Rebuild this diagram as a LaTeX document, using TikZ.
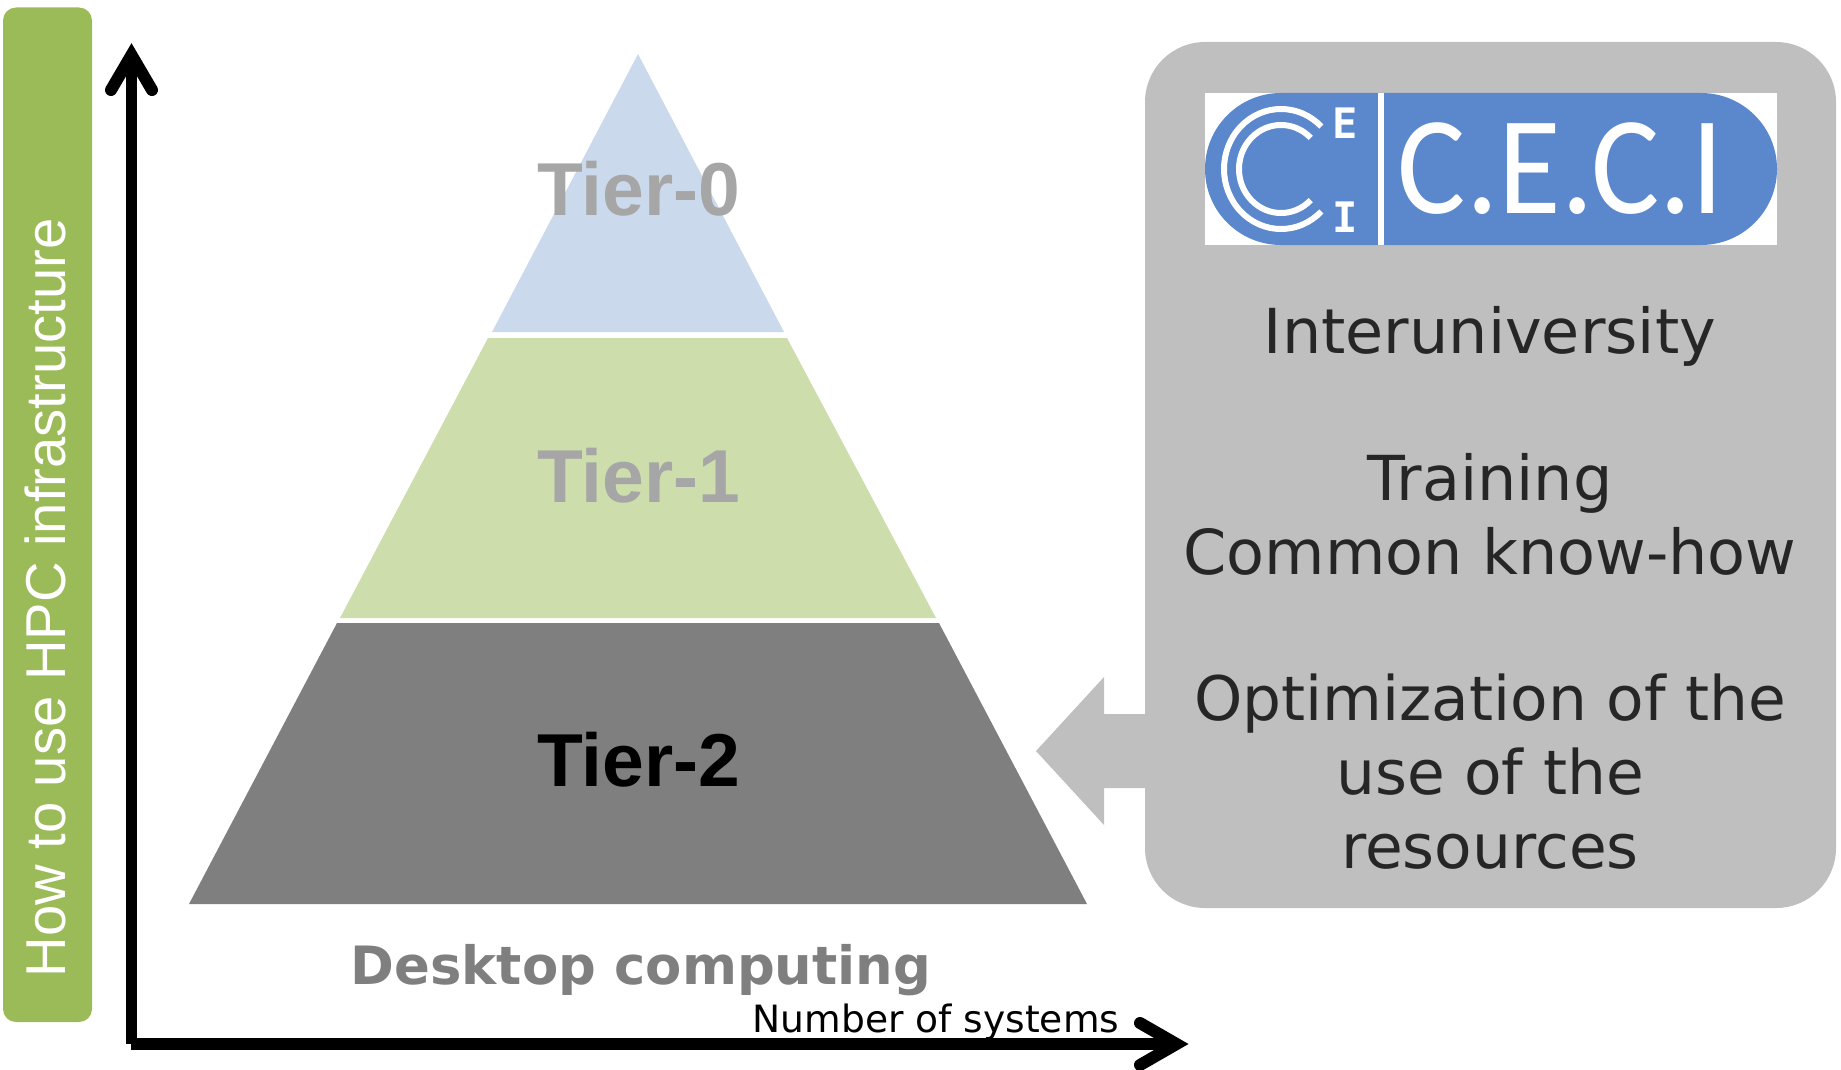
\documentclass[tikz,border=0pt]{standalone}
\usepackage{fontspec}
\setmainfont{DejaVu Sans}
\newfontfamily\arialf{Liberation Sans}
\newfontfamily\logof{Carlito}
\newfontfamily\logomono{DejaVu Sans Mono}
\definecolor{greenbar}{HTML}{9BBB59}
\definecolor{tierzero}{HTML}{CADAEC}
\definecolor{tierone}{HTML}{CDDDAC}
\definecolor{tiertwo}{HTML}{7F7F7F}
\definecolor{panel}{HTML}{BFBFBF}
\definecolor{logoblue}{HTML}{5B87CC}
\definecolor{tierlabel}{HTML}{A6A6A6}
\definecolor{paneltext}{HTML}{262626}
\tikzset{
  lbl/.style={inner sep=0pt,outer sep=0pt,anchor=base},
  tierlbl/.style={lbl,font=\arialf\bfseries\fontsize{75}{80}\selectfont},
  paneltxt/.style={lbl,align=center,text=paneltext,font=\fontsize{62}{74}\selectfont},
  axisline/.style={line width=11.8pt},
  axiswing/.style={line width=12pt,line cap=round,miter limit=10}
}
\begin{document}
\begin{tikzpicture}[x=1pt,y=-1pt]
\useasboundingbox (0,0) rectangle (1841,1070);
% sidebar
\fill[greenbar,rounded corners=13pt] (3,7.5) rectangle (92,1022);
\node[lbl,rotate=90,text=white,font=\arialf\fontsize{56.2}{60}\selectfont] (side) at (65,598) {How to use HPC infrastructure};
% pyramid
\fill[tierzero] (638,54) -- (784,332) -- (492,332) -- cycle;
\fill[tierone] (488,338) -- (787,338) -- (936,618) -- (340,618) -- cycle;
\fill[tiertwo] (337,623) -- (939,623) -- (1087,904) -- (189,904) -- cycle;
\node[tierlbl,text=tierlabel] (t0) at (638.5,215) {Tier-0};
\node[tierlbl,text=tierlabel] (t1) at (638.5,502) {Tier-1};
\node[tierlbl,text=black] (t2) at (638.5,786) {Tier-2};
\node[lbl,text=tiertwo,font=\bfseries\fontsize{52.8}{60}\selectfont] (desk) at (641,984) {Desktop computing};
% panel
\fill[panel,rounded corners=60pt] (1145,42) rectangle (1836,908);
\fill[panel] (1150,714) -- (1104,714) -- (1104,677) -- (1036,751) -- (1104,825) -- (1104,788) -- (1150,788) -- cycle;
% logo
\fill[white] (1205,93) rectangle (1777,245);
\fill[logoblue,rounded corners=76pt] (1205,93) rectangle (1777,245);
\fill[white] (1378,93) rectangle (1384,245);
\draw[white,line width=6pt] (1281,169) ++(45:57 and 60) arc[start angle=45,end angle=315,x radius=57,y radius=60];
\draw[white,line width=6pt] (1281,169) ++(45:42 and 44) arc[start angle=45,end angle=315,x radius=42,y radius=44];
\node[lbl,text=white,font=\logomono\bfseries\fontsize{42}{44}\selectfont] (logoe) at (1345,139) {E};
\node[lbl,text=white,font=\logomono\bfseries\fontsize{42}{44}\selectfont] (logoi) at (1345,232) {I};
\node[lbl,text=white,font=\logof\fontsize{140}{140}\selectfont] (logot) at (1561,213) {\scalebox{.915}[1]{C.E.C.I}};
% panel text
\node[paneltxt] (p1) at (1490,353) {Interuniversity};
\node[paneltxt] (p2) at (1490,574) {Training\\Common know-how};
\node[paneltxt,font=\fontsize{61.4}{74}\selectfont] (p3) at (1490,868) {Optimization of the\\use of the\\resources};
% axes
\coordinate (orig) at (131,1044);
\coordinate (ybase) at (131.5,1044);
\coordinate (yvert) at (131.5,55);
\coordinate (yl) at (111,90);
\coordinate (yr) at (152,90);
\coordinate (xvert) at (1176.5,1044);
\coordinate (xu) at (1140,1023);
\coordinate (xd) at (1140,1065);
\draw[axisline] (ybase) -- (yvert);
\draw[axiswing] (yl) -- (yvert) -- (yr);
\draw[axisline] (orig) -- (xvert);
\draw[axiswing] (xu) -- (xvert) -- (xd);
\node[lbl,text=black,font=\fontsize{37.6}{40}\selectfont] (nsys) at (936,1032) {Number of systems};
\end{tikzpicture}
\end{document}
